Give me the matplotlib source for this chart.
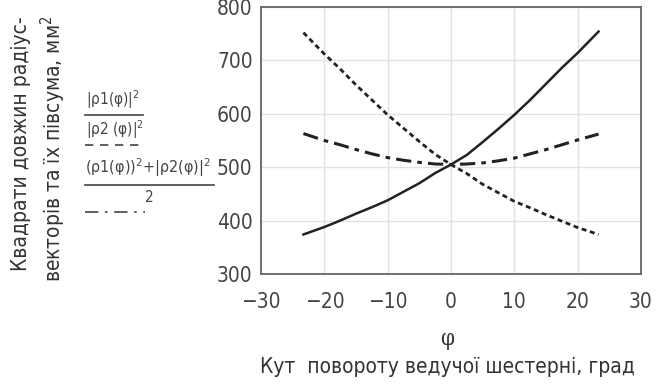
import numpy as np
import matplotlib
matplotlib.use("Agg")
import matplotlib.pyplot as plt
from matplotlib.lines import Line2D

plt.rcParams['font.family'] = ['DejaVu Sans']
plt.rcParams['font.stretch'] = 'condensed'

# кут повороту, град
phi = [-23.3, -20, -17.5, -15, -12.5, -10, -7.5, -5, -2.5, 0,
       2.5, 5, 7.5, 10, 12.5, 15, 17.5, 20, 23.3]
# |rho1(phi)|^2
rho1_sq = [374, 388, 400, 413, 425, 438, 454, 470, 489, 505,
           523, 547, 572, 598, 626, 656, 686, 714, 754]
# |rho2(phi)|^2
rho2_sq = [752, 712, 684, 654, 626, 598, 573, 548, 524, 505,
           488, 468, 452, 436, 424, 411, 399, 387, 374]
# півсума
half_sum = [563, 550, 542, 533, 525, 518, 513, 509, 506, 505,
            506, 508, 512, 517, 525, 533, 542, 551, 562]

x_ticks = [-30, -20, -10, 0, 10, 20, 30]
y_ticks = [300, 400, 500, 600, 700, 800]

fig = plt.figure(figsize=(6.64, 3.88), dpi=100)
ax = fig.add_axes([261 / 664, 1 - 274 / 388, (641 - 261) / 664, (274 - 7) / 388])

ax.plot(phi, rho1_sq, color='#222222', lw=1.8, ls='-')
ax.plot(phi, rho2_sq, color='#222222', lw=2.0, ls=(0, (1.8, 1.3)))
ax.plot(phi, half_sum, color='#222222', lw=2.2, ls=(0, (5, 2, 1.5, 2)))

ax.set_xlim(-30, 30)
ax.set_ylim(300, 800)
ax.set_xticks(x_ticks)
ax.set_yticks(y_ticks)
ax.set_xticklabels(['\u221230', '\u221220', '\u221210', '0', '10', '20', '30'])
ax.tick_params(length=0, labelsize=15, colors='#444444')
ax.tick_params(axis='x', pad=13)
ax.tick_params(axis='y', pad=6)
ax.grid(True, color='#e2e2e2', lw=1)
for s in ax.spines.values():
    s.set_color('#666666')
    s.set_linewidth(1.3)

# підписи осей
fig.text(447 / 664, 1 - 339 / 388, '\u03c6', ha='center', va='center',
         fontsize=16, color='#333333', family=['DejaVu Serif'])
fig.text(447 / 664, 1 - 367 / 388, 'Кут  повороту ведучої шестерні, град',
         ha='center', va='center', fontsize=15, color='#333333')
fig.text(21 / 664, 1 - 144 / 388, 'Квадрати довжин радіус-',
         rotation=90, ha='center', va='center', fontsize=15, color='#333333')
fig.text(53 / 664, 1 - 149 / 388, 'векторів та їх півсума, мм$^2$',
         rotation=90, ha='center', va='center', fontsize=15, color='#333333')

# легенда в стилі Mathcad
c = '#444444'
fig.text(86 / 664, 1 - 100 / 388, '|\u03c11(\u03c6)|$^2$', fontsize=11, color=c, va='center')
fig.add_artist(Line2D([85 / 664, 143 / 664], [1 - 115 / 388] * 2, color=c, lw=1.2))
fig.text(86 / 664, 1 - 130 / 388, '|\u03c12 (\u03c6)|$^2$', fontsize=11, color=c, va='center')
fig.add_artist(Line2D([85 / 664, 143 / 664], [1 - 145 / 388] * 2, color=c, lw=1.2, ls=(0, (5, 4))))
fig.text(85 / 664, 1 - 168 / 388, '(\u03c11(\u03c6))$^2$+|\u03c12(\u03c6)|$^2$',
         fontsize=11.5, color=c, va='center')
fig.add_artist(Line2D([85 / 664, 214 / 664], [1 - 185 / 388] * 2, color=c, lw=1.2))
fig.add_artist(Line2D([85 / 664, 145 / 664], [1 - 212 / 388] * 2, color=c, lw=1.2,
                      ls=(0, (8, 4, 1.5, 4))))
fig.text(145 / 664, 1 - 198 / 388, '2', fontsize=11, color=c, va='center')

fig.savefig('out.png', dpi=100)
